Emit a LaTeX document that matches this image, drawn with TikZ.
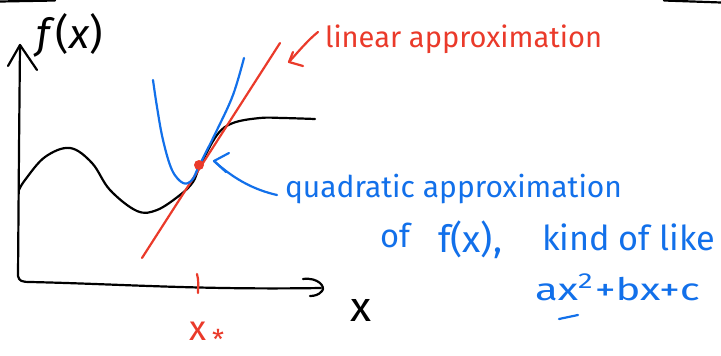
\documentclass[tikz,border=0pt]{standalone}
\usepackage{fontspec}
\setmainfont{Fira Sans}
\usepackage{graphicx}
\definecolor{redc}{RGB}{234,58,42}
\definecolor{bluec}{RGB}{18,112,234}
\newcommand{\fitw}[2]{\resizebox{#1}{!}{#2}}
\begin{document}
\begin{tikzpicture}[x=1pt,y=-1pt,
  ink/.style={line width=2.2pt,line cap=round,line join=round},
  txt/.style={inner sep=0pt,outer sep=0pt}]
\useasboundingbox (0,0) rectangle (721,356);
% stray marks at the top edge
\draw[ink,black] (0,1.5) -- (55,0.5);
\draw[ink,black] (664,0.5) -- (721,2.5);
% axes
\coordinate (ytip) at (20,45);
\coordinate (corner) at (18,276);
\coordinate (xtip) at (321,288);
\draw[ink] (ytip) -- (19,150) -- (corner) .. controls (19,281) and (22,282) .. (30,282)
  .. controls (120,284) and (200,290) .. (xtip);
\draw[ink] (8,66) -- (ytip) -- (37,70);
\draw[ink] (303,279) .. controls (318,277) and (326,287) .. (322,291) .. controls (319,295) and (314,296) .. (310,296);
% black function curve
\draw[ink] plot[smooth,tension=0.6] coordinates {(19,190) (25,180) (45,157) (70,148) (92,163) (110,190) (137,211) (157,210) (180,195) (193,182) (200,166) (217,135) (233,123) (260,118) (283,118) (315,119)};
% red tangent line
\coordinate (p) at (199,165);
\draw[ink,redc] (142,258) -- (280,43);
% blue parabola
\draw[ink,bluec] plot[smooth,tension=0.6] coordinates {(153,80) (157,107) (163,140) (172,170) (183,183) (192,180) (199,166) (217,130) (233,95) (244,58)};
% red point
\fill[redc] (p) circle (5pt);
% red tick and label
\draw[ink,redc] (197,274) .. controls (199,281) and (198,287) .. (198,293);
\node[txt,text=redc] (xs) at (198,331) {\fitw{17pt}{x}};
\node[txt,text=redc] (star) at (218,339) {\fitw{12pt}{*}};
% x label
\node[txt] (xlab) at (361,310) {\resizebox{21pt}{22pt}{x}};
% f(x) label
\node[txt] (fx) at (70,35) {\fitw{66pt}{\textit{f}(\textit{x})}};
% linear approximation
\node[txt,text=redc,anchor=base west] (lin) at (325,48) {\fitw{277pt}{linear approximation}};
\coordinate (ra) at (289,62);
\draw[ink,redc] (318,32) .. controls (308,40) and (298,52) .. (ra);
\draw[ink,redc] (293,52) -- (ra) -- (303,66);
% quadratic approximation
\node[txt,text=bluec,anchor=base west] (quad) at (285,197) {\fitw{337pt}{quadratic approximation}};
\node[txt,text=bluec,anchor=base west] (of1) at (380,247) {\fitw{30pt}{of}};
\node[txt,text=bluec,anchor=base west] (fx2) at (438,252) {\fitw{64pt}{f(x),}};
\node[txt,text=bluec,anchor=base west] (kind) at (542,250) {\fitw{173pt}{kind of like}};
\node[txt,text=bluec,anchor=base west] (poly) at (535,300) {\resizebox{165pt}{26pt}{ax\textsuperscript{2}+bx+c}};
\draw[ink,bluec] (559,319) -- (578,315);
\coordinate (ba) at (214,161);
\draw[ink,bluec] (277,195) .. controls (255,190) and (235,180) .. (ba);
\draw[ink,bluec] (229,153) -- (ba) -- (226,172);
\end{tikzpicture}
\end{document}
